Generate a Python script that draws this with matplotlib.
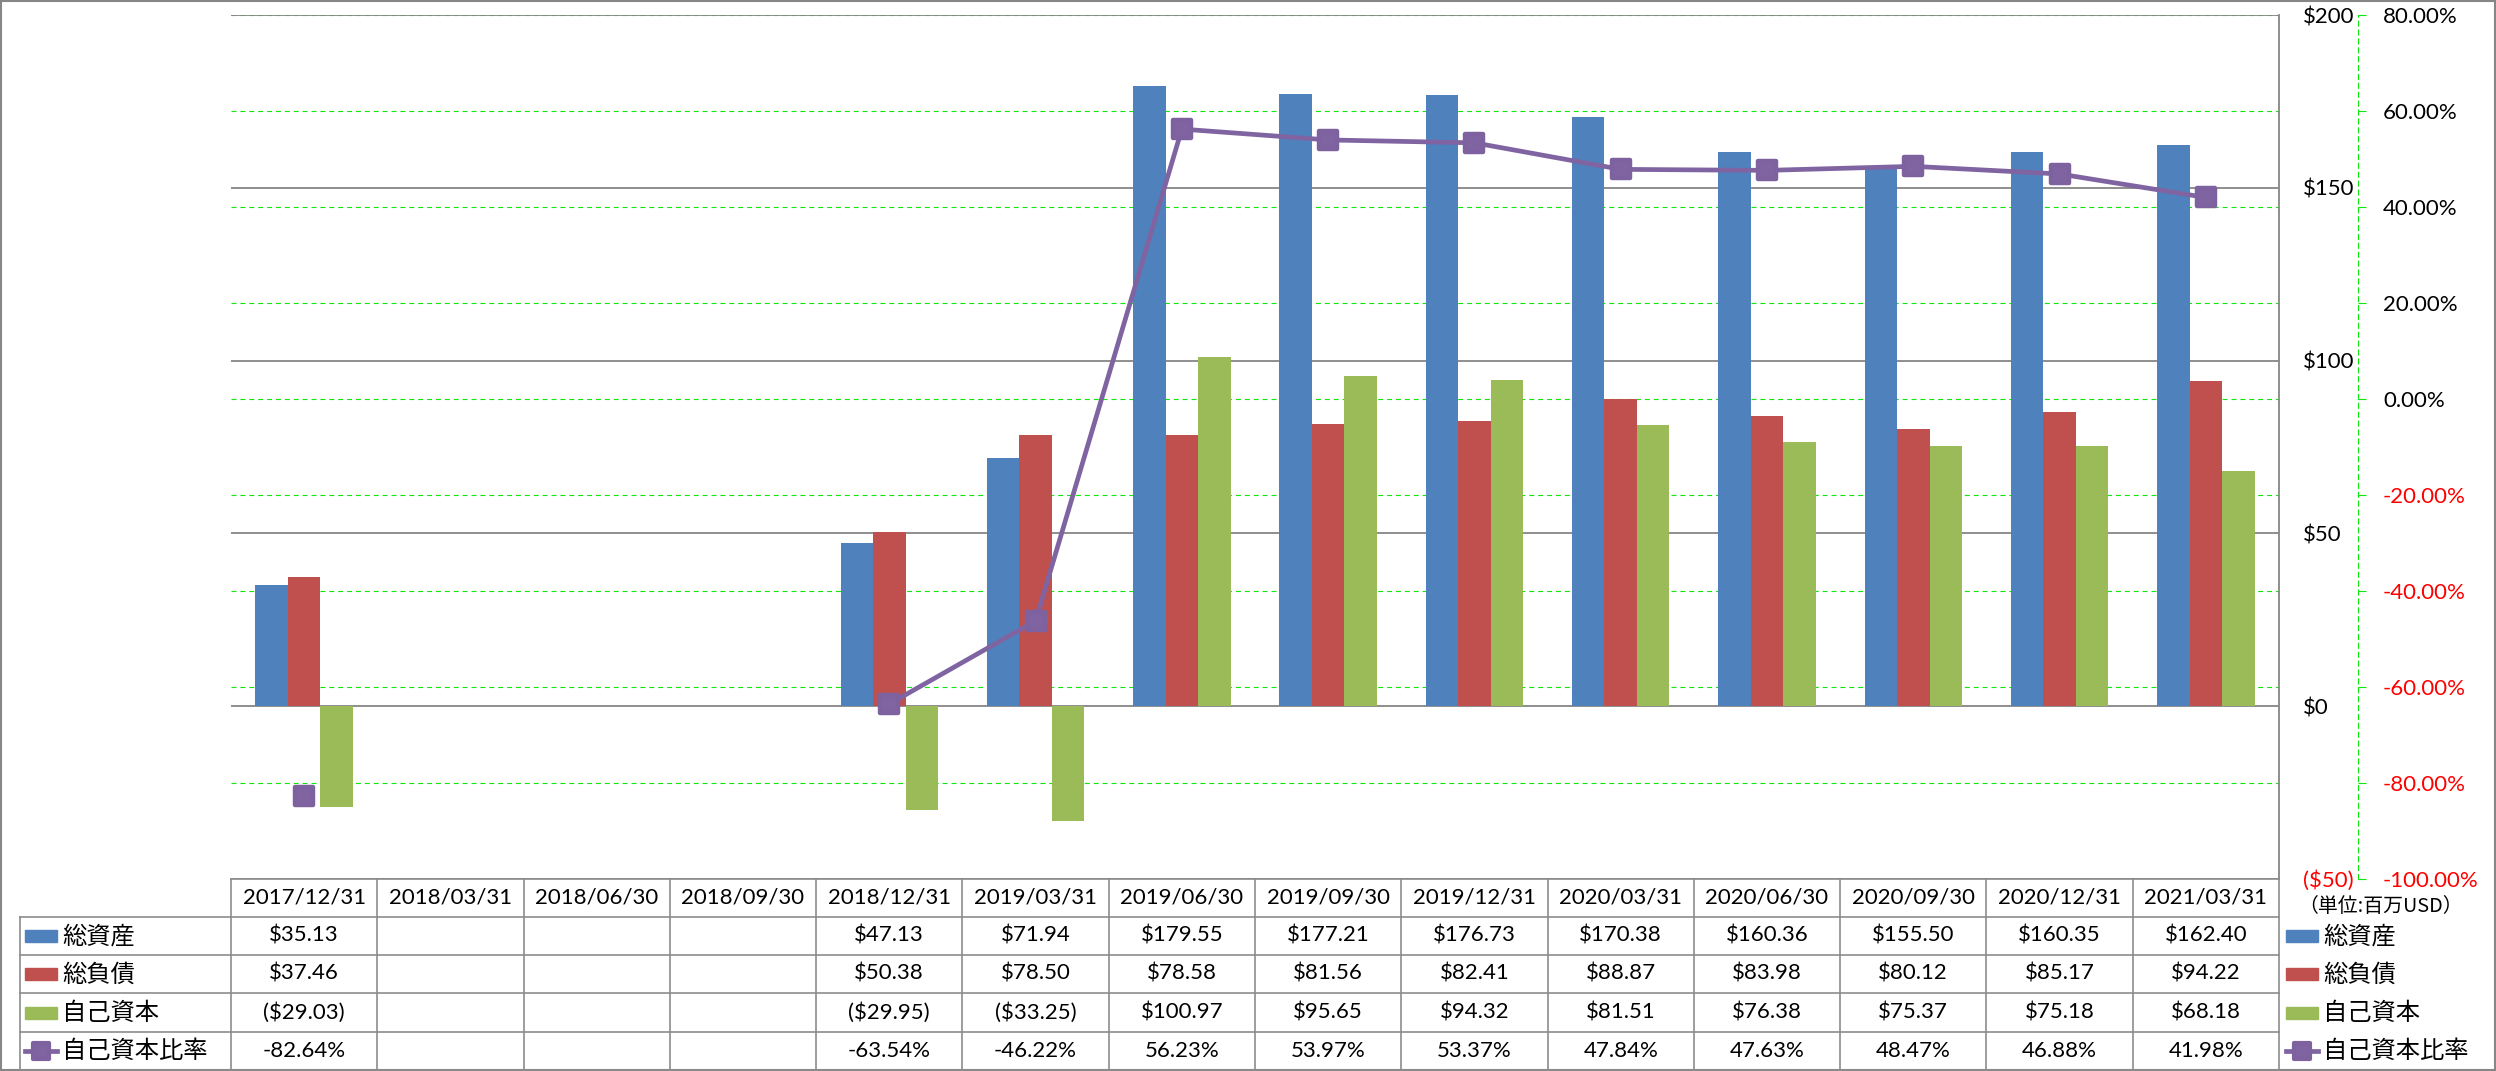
import numpy as np
import matplotlib
matplotlib.use('Agg')
import matplotlib.pyplot as plt
from matplotlib.transforms import blended_transform_factory
from matplotlib.lines import Line2D
from matplotlib.patches import Rectangle
from matplotlib.markers import MarkerStyle

plt.rcParams['font.family'] = ['Lato', 'Noto Sans CJK JP', 'DejaVu Sans']

# ---------------- data ----------------
dates = ['2017/12/31', '2018/03/31', '2018/06/30', '2018/09/30', '2018/12/31',
         '2019/03/31', '2019/06/30', '2019/09/30', '2019/12/31', '2020/03/31',
         '2020/06/30', '2020/09/30', '2020/12/31', '2021/03/31']
nan = np.nan
total_assets = [35.13, nan, nan, nan, 47.13, 71.94, 179.55, 177.21, 176.73,
                170.38, 160.36, 155.50, 160.35, 162.40]
total_liabilities = [37.46, nan, nan, nan, 50.38, 78.50, 78.58, 81.56, 82.41,
                     88.87, 83.98, 80.12, 85.17, 94.22]
equity = [-29.03, nan, nan, nan, -29.95, -33.25, 100.97, 95.65, 94.32,
          81.51, 76.38, 75.37, 75.18, 68.18]
equity_ratio = [-82.64, nan, nan, nan, -63.54, -46.22, 56.23, 53.97, 53.37,
                47.84, 47.63, 48.47, 46.88, 41.98]
series_names = ['総資産', '総負債', '自己資本', '自己資本比率']
left_ticks = [-50, 0, 50, 100, 150, 200]
right_ticks = [-100, -80, -60, -40, -20, 0, 20, 40, 60, 80]
unit_label = '（単位:百万USD）'

C_BLUE, C_RED, C_GREEN, C_PURPLE = '#4F81BD', '#C0504D', '#9BBB59', '#8064A2'
GRAY = '#868686'
LIME = '#11E611'

# ---------------- figure / axes ----------------
W, H = 2496, 1071
fig = plt.figure(figsize=(W / 100, H / 100), dpi=100)
fig.patch.set_facecolor('white')
L, R, T, B = 231, 2279, 15, 879
rect = [L / W, 1 - B / H, (R - L) / W, (B - T) / H]

def fy(y):
    return 1 - y / H

def fx(x):
    return x / W

axg = fig.add_axes(rect)
ax = fig.add_axes(rect, sharex=axg)
axl = fig.add_axes(rect, sharex=axg)
axg.set_zorder(0); ax.set_zorder(1); axl.set_zorder(2)
ax.patch.set_visible(False); axl.patch.set_visible(False)

n = len(dates)
x = np.arange(n)
axg.set_xlim(-0.5, n - 0.5)

# green dashed secondary grid
axg.set_ylim(right_ticks[0], right_ticks[-1])
for v in right_ticks:
    axg.axhline(v, color=LIME, lw=0.8, ls=(0, (4.5, 3.5)))
for s in axg.spines.values():
    s.set_visible(False)
axg.set_xticks([]); axg.set_yticks([])

# bars on primary axis
ax.set_ylim(left_ticks[0], left_ticks[-1])
bw = 1 / 4.5
ax.bar(x - bw, total_assets, bw, color=C_BLUE, zorder=3)
ax.bar(x, total_liabilities, bw, color=C_RED, zorder=3)
ax.bar(x + bw, equity, bw, color=C_GREEN, zorder=3)
ax.set_yticks(left_ticks)
ax.yaxis.grid(True, color=GRAY, lw=1.3)
ax.set_axisbelow(True)
ax.yaxis.tick_right()
ax.tick_params(axis='y', length=0, pad=17.3, labelsize=16)
ax.set_yticklabels([('($%d)' % -v) if v < 0 else ('$%d' % v) for v in left_ticks])
for lab, v in zip(ax.get_yticklabels(), left_ticks):
    lab.set_color('#FF0000' if v < 0 else 'black')
ax.set_xticks([])
for k in ['left', 'top', 'bottom']:
    ax.spines[k].set_visible(False)
ax.spines['right'].set_color(GRAY)
ax.spines['right'].set_linewidth(1.3)

# ratio line on secondary axis
mk = MarkerStyle('s', joinstyle='round')
axl.set_ylim(right_ticks[0], right_ticks[-1])
axl.plot(x, equity_ratio, color=C_PURPLE, lw=3.4, marker=mk, ms=12.5,
         mfc=C_PURPLE, mec='#7E62A0', mew=3.2, zorder=5, clip_on=False)
axl.set_xticks([])
for k in ['left', 'top', 'bottom']:
    axl.spines[k].set_visible(False)
axl.yaxis.tick_right()
axl.spines['right'].set_position(('outward', 79 * 0.72))
axl.spines['right'].set_color(LIME)
axl.spines['right'].set_linestyle((0, (4.5, 3.5)))
axl.spines['right'].set_linewidth(0.8)
axl.set_yticks(right_ticks)
axl.set_yticklabels(['%.2f%%' % v for v in right_ticks])
axl.tick_params(axis='y', direction='out', length=6, width=0.8, color=LIME,
                pad=12, labelsize=16)
for lab, v in zip(axl.get_yticklabels(), right_ticks):
    lab.set_color('#FF0000' if v < 0 else 'black')

# ---------------- data table ----------------
tr = blended_transform_factory(ax.transData, fig.transFigure)
TGRAY = '#8C8C8C'
row_edges = [879, 917, 955, 993, 1032, 1070]
row_cent = [(row_edges[i] + row_edges[i + 1]) / 2 for i in range(5)]
tab_left = 20

# horizontal lines
fig.add_artist(Line2D([fx(L), fx(R)], [fy(879), fy(879)], color=TGRAY, lw=1.2,
                      transform=fig.transFigure))
for y in row_edges[1:]:
    fig.add_artist(Line2D([fx(tab_left), fx(R)], [fy(y), fy(y)], color=TGRAY, lw=1.2,
                          transform=fig.transFigure))
# vertical lines
for i in range(n + 1):
    fig.add_artist(Line2D([i - 0.5, i - 0.5], [fy(879), fy(1070)], color=TGRAY,
                          lw=1.2, transform=tr))
fig.add_artist(Line2D([fx(tab_left), fx(tab_left)], [fy(917), fy(1070)], color=TGRAY,
                      lw=1.2, transform=fig.transFigure))

def fmt_money(v):
    if np.isnan(v):
        return ''
    return '($%.2f)' % -v if v < 0 else '$%.2f' % v

def fmt_pct(v):
    if np.isnan(v):
        return ''
    return '%.2f%%' % v

for i, d in enumerate(dates):
    fig.text(i, fy(row_cent[0]), d, transform=tr, ha='center', va='center', fontsize=16)
    fig.text(i, fy(row_cent[1]), fmt_money(total_assets[i]), transform=tr,
             ha='center', va='center', fontsize=16)
    fig.text(i, fy(row_cent[2]), fmt_money(total_liabilities[i]), transform=tr,
             ha='center', va='center', fontsize=16)
    fig.text(i, fy(row_cent[3]), fmt_money(equity[i]), transform=tr,
             ha='center', va='center', fontsize=16)
    fig.text(i, fy(row_cent[4]), fmt_pct(equity_ratio[i]), transform=tr,
             ha='center', va='center', fontsize=16)

def legend_key(x0, yc, idx):
    colors = [C_BLUE, C_RED, C_GREEN]
    if idx < 3:
        fig.add_artist(Rectangle((fx(x0), fy(yc + 6)), 32 / W, 12 / H,
                                 color=colors[idx], transform=fig.transFigure))
    else:
        fig.add_artist(Line2D([fx(x0), fx(x0 + 32)], [fy(yc), fy(yc)], color=C_PURPLE,
                              lw=3.4, transform=fig.transFigure))
        fig.add_artist(Line2D([fx(x0 + 16)], [fy(yc)], color=C_PURPLE, marker=mk,
                              ms=11, mew=3, mec='#7E62A0', transform=fig.transFigure))

for k, name in enumerate(series_names):
    yc = row_cent[k + 1]
    legend_key(25, yc, k)
    fig.text(fx(62), fy(yc), name, ha='left', va='center', fontsize=17.5)
    legend_key(2286, yc, k)
    fig.text(fx(2323), fy(yc), name, ha='left', va='center', fontsize=17.5)

fig.text(fx(2298), fy(907), unit_label, ha='left', va='center', fontsize=14.3,
         family=['Noto Sans CJK JP'])

# outer border
fig.add_artist(Rectangle((0.0004, 0.001), 0.999, 0.998, fill=False, ec=GRAY, lw=1.5,
                         transform=fig.transFigure))

fig.savefig('out.png', dpi=100)
